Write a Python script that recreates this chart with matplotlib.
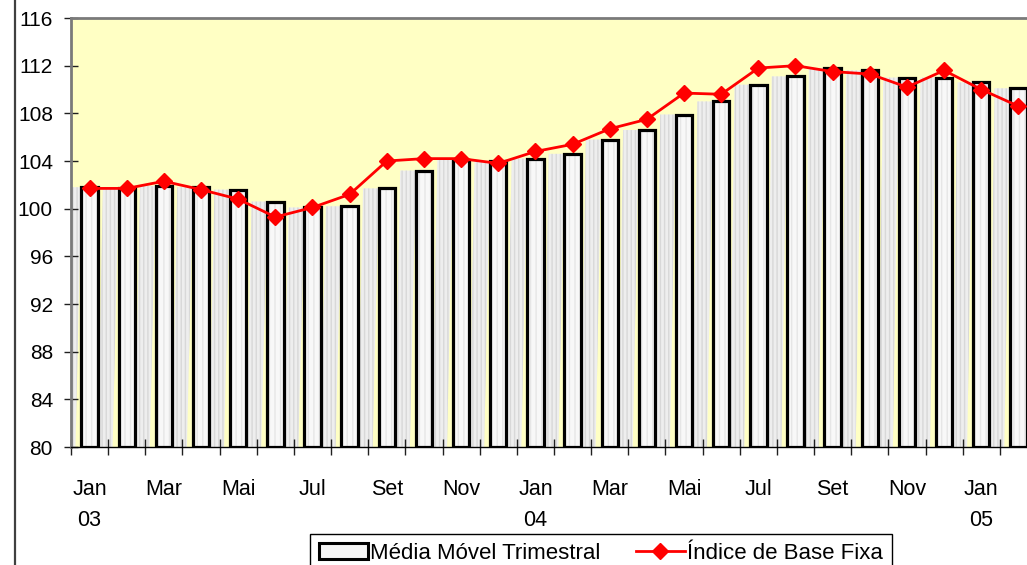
import numpy as np
import matplotlib.pyplot as plt
from matplotlib.patches import Polygon, Patch
from matplotlib.lines import Line2D

plt.rcParams['font.family'] = ['Liberation Sans', 'DejaVu Sans']

# monthly data Jan/03 .. Feb/05
months = ['Jan', 'Fev', 'Mar', 'Abr', 'Mai', 'Jun', 'Jul', 'Ago', 'Set', 'Out', 'Nov', 'Dez',
          'Jan', 'Fev', 'Mar', 'Abr', 'Mai', 'Jun', 'Jul', 'Ago', 'Set', 'Out', 'Nov', 'Dez',
          'Jan', 'Fev']
years = {0: '03', 12: '04', 24: '05'}
media_movel = [101.8, 101.7, 101.9, 101.8, 101.6, 100.6, 100.1, 100.2, 101.7, 103.2, 104.1, 104.0,
               104.2, 104.6, 105.8, 106.6, 107.9, 109.0, 110.4, 111.1, 111.8, 111.6, 111.0, 111.0,
               110.6, 110.1]
indice_base = [101.7, 101.7, 102.3, 101.6, 100.8, 99.3, 100.1, 101.2, 104.0, 104.2, 104.2, 103.8,
               104.8, 105.4, 106.7, 107.5, 109.7, 109.6, 111.8, 112.0, 111.5, 111.3, 110.2, 111.6,
               110.0, 108.6]
yticks = list(range(80, 117, 4))
ybase = 80

W, H = 1027, 565
fig = plt.figure(figsize=(W / 100, H / 100), dpi=100)
ax = fig.add_axes([71 / W, 118 / H, 966 / W, 429 / H])
ax.set_facecolor('#FFFFC4')

x = np.arange(len(months))
bw = 0.44
vals = np.array(media_movel)

# 3d-ish grey side faces of the columns
for xi, v in zip(x, vals):
    L = xi - bw / 2
    poly = Polygon([(L - 0.42, v), (L, v), (L - 0.16, ybase), (L - 0.56, ybase)],
                   closed=True, facecolor='#eeeeee', edgecolor='#d8d8d8', lw=0,
                   hatch='||||', zorder=1)
    ax.add_patch(poly)

ax.bar(x, vals - ybase, bottom=ybase, width=bw, facecolor='#f8f8f8', edgecolor='#e6e6e6',
       lw=0, hatch='|||', zorder=2)
ax.bar(x, vals - ybase, bottom=ybase, width=bw, fill=False, edgecolor='black', lw=2.3, zorder=3)

ax.plot(x, indice_base, color='#FF0000', lw=2, marker='D', ms=8.5, mec='#FF0000', mfc='#FF0000',
        zorder=4, clip_on=False)

ax.set_xlim(-0.5, len(months) - 0.5)
ax.set_ylim(80, 116)
ax.set_yticks(yticks)
ax.tick_params(axis='y', direction='inout', length=10, width=1, color='#202020', pad=8,
               labelsize=15)

# ticks at category boundaries, labels every 2 months at centre
ax.set_xticks(np.arange(-0.5, len(months) + 0.5, 1))
ax.set_xticklabels([])
ax.tick_params(axis='x', which='major', direction='inout', length=11, width=1, color='#202020')
lab_pos = x[::2]
labs = [months[i] + ('\n' + years[i] if i in years else '\n') for i in lab_pos]
ax.set_xticks(lab_pos, minor=True)
ax.set_xticklabels(labs, minor=True, fontsize=15.5, linespacing=1.65)
ax.tick_params(axis='x', which='minor', length=0, pad=23)

for s in ['top', 'left', 'right']:
    ax.spines[s].set_color('#7a7a7a')
    ax.spines[s].set_linewidth(2)
ax.spines['bottom'].set_color('black')
ax.spines['bottom'].set_linewidth(1)
ax.spines['bottom'].set_zorder(5)

# outer chart frame
fig.add_artist(Line2D([15 / W, 15 / W], [0, 1], color='#404040', lw=1.6))

handles = [Patch(facecolor='#f5f5f5', edgecolor='black', lw=2.2),
           Line2D([], [], color='#FF0000', lw=2, marker='D', ms=8.5)]
leg = fig.legend(handles, ['Média Móvel Trimestral', 'Índice de Base Fixa'], ncol=2,
                 loc='upper left', bbox_to_anchor=(310 / W, 1 - 534 / H), borderaxespad=0,
                 fontsize=16, frameon=True, fancybox=False, edgecolor='black', framealpha=1,
                 handlelength=2.2, handletextpad=0.1, columnspacing=1.6, borderpad=0.4)
leg.get_frame().set_linewidth(1)

fig.savefig('out.png', dpi=100)
